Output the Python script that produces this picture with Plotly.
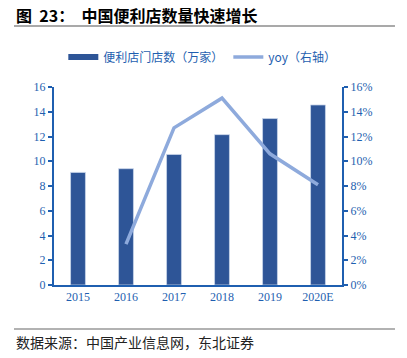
import plotly.graph_objects as go

years = ["2015", "2016", "2017", "2018", "2019", "2020E"]
stores = [9.1, 9.4, 10.55, 12.15, 13.45, 14.55]
yoy_years = ["2016", "2017", "2018", "2019", "2020E"]
yoy = [3.3, 12.7, 15.1, 10.6, 8.1]

bar_name = "便利店门店数（万家）"
line_name = "yoy（右轴）"
title_text = "<b>图  23：  中国便利店数量快速增长</b>"
source_text = "数据来源：中国产业信息网，东北证券"

bar_color = "#2E5597"
line_color = "#8EAADC"
axis_blue = "#1F5FB0"
tick_font = dict(family="Liberation Serif, Times New Roman, serif", size=12, color=axis_blue)

fig = go.Figure()
fig.add_trace(go.Bar(x=years, y=stores, name=bar_name, showlegend=False,
                     marker=dict(color=bar_color, line=dict(color="#C9D5EA", width=0.8)),
                     width=0.31))
# legend-only entry giving the wide rectangle symbol of the reference
fig.add_trace(go.Scatter(x=[None], y=[None], name=bar_name, mode="lines",
                         line=dict(color=bar_color, width=6)))
fig.add_trace(go.Scatter(x=yoy_years, y=yoy, name=line_name, yaxis="y2", mode="lines",
                         line=dict(color=line_color, width=3.5)))

fig.update_layout(
    width=407, height=358,
    margin=dict(l=54, r=65, t=87, b=73),
    paper_bgcolor="white", plot_bgcolor="white",
    showlegend=True,
    legend=dict(orientation="h", x=0.515, xanchor="center", y=1.225, yanchor="top",
                font=dict(family="Noto Sans CJK SC", size=12, color=axis_blue),
                itemwidth=30, tracegroupgap=0, bgcolor="rgba(0,0,0,0)"),
    xaxis=dict(showline=True, linecolor=axis_blue, linewidth=2, ticks="", tickfont=tick_font,
               showgrid=False, zeroline=False, fixedrange=True),
    yaxis=dict(range=[0, 16], dtick=2, showline=True, linecolor=axis_blue, linewidth=2,
               ticks="outside", ticklen=4, tickcolor=axis_blue, tickwidth=2, tickfont=tick_font,
               showgrid=False, zeroline=False),
    yaxis2=dict(range=[0, 16], dtick=2, overlaying="y", side="right", ticksuffix="%",
                showline=True, linecolor=axis_blue, linewidth=2, ticks="outside", ticklen=4,
                tickcolor=axis_blue, tickwidth=2, tickfont=tick_font, showgrid=False, zeroline=False),
    shapes=[
        dict(type="line", xref="paper", yref="paper", x0=-0.139, x1=1.184, y0=1.308, y1=1.308,
             line=dict(color="#555555", width=1.2)),
        dict(type="line", xref="paper", yref="paper", x0=-0.139, x1=1.184, y0=-0.222, y1=-0.222,
             line=dict(color="#999999", width=1.5)),
    ],
    annotations=[
        dict(text=title_text, xref="paper", yref="paper", x=-0.139, y=1.364, xanchor="left", yanchor="middle",
             showarrow=False, font=dict(family="Noto Sans CJK SC", size=16, color="black")),
        dict(text=source_text, xref="paper", yref="paper", x=-0.139, y=-0.288, xanchor="left", yanchor="middle",
             showarrow=False, font=dict(family="Noto Sans CJK SC", size=14, color="#222222")),
    ],
)

fig.write_html("out.html", config={"displayModeBar": False},
               post_script="document.body.style.margin='0';document.body.style.overflow='hidden';")
